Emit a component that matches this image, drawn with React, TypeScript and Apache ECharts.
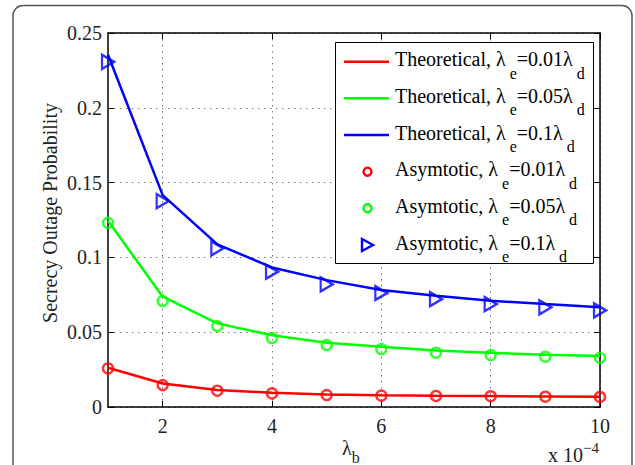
import React, { useEffect, useRef } from 'react';
import * as echarts from 'echarts';

const xValues = [1, 2, 3, 4, 5, 6, 7, 8, 9, 10];
const xTicks = [2, 4, 6, 8, 10];

const theoRed = [0.0262, 0.0157, 0.0113, 0.0096, 0.0083, 0.0078, 0.0075, 0.0073, 0.0071, 0.0069];
const theoGreen = [0.1245, 0.0737, 0.0559, 0.0479, 0.043, 0.0403, 0.0378, 0.0362, 0.035, 0.0341];
const theoBlue = [0.2355, 0.1416, 0.1087, 0.0933, 0.0848, 0.0782, 0.0744, 0.071, 0.0688, 0.0667];

const asymRed = [0.0258, 0.0147, 0.0109, 0.0091, 0.008, 0.0076, 0.0074, 0.0072, 0.0069, 0.0067];
const asymGreen = [0.1231, 0.0708, 0.0541, 0.0461, 0.0414, 0.0387, 0.0363, 0.0347, 0.0336, 0.0329];
const asymBlue = [0.2307, 0.1376, 0.106, 0.0904, 0.082, 0.0762, 0.0721, 0.0688, 0.0666, 0.0646];

const ratios = ['0.01', '0.05', '0.1'];
const colors = ['#ff0000', '#00ff00', '#0000ff'];
const yTitle = 'Secrecy Outage Probability';

const FONT = '"Liberation Serif", "Times New Roman", serif';

const pairs = (ys: number[]) => xValues.map((x, i) => [x, ys[i]]);

export default function App() {
  const ref = useRef<HTMLDivElement>(null);
  useEffect(() => {
    const chart = echarts.init(ref.current!, null, { renderer: 'svg' });
    const theo = [theoRed, theoGreen, theoBlue];
    const asym = [asymRed, asymGreen, asymBlue];

    const series: any[] = [];
    theo.forEach((d, i) => {
      series.push({
        type: 'line',
        name: `Theoretical ${ratios[i]}`,
        data: pairs(d),
        showSymbol: false,
        symbol: 'none',
        lineStyle: { color: colors[i], width: 2.5 },
        z: 2,
      });
    });
    asym.forEach((d, i) => {
      const tri = i === 2;
      series.push({
        type: 'scatter',
        name: `Asymtotic ${ratios[i]}`,
        data: pairs(d),
        symbol: tri ? 'triangle' : 'circle',
        symbolSize: tri ? [14, 12] : 10,
        symbolRotate: tri ? -90 : 0,
        clip: false,
        itemStyle: { color: 'rgba(0,0,0,0)', borderColor: colors[i], borderWidth: 2.4 },
        z: 3,
      });
    });

    const rowYs = [61.7, 98.3, 135, 171.7, 208.3, 245];
    const legendEls: any[] = [
      {
        type: 'rect',
        shape: { x: 335.5, y: 42.5, width: 258, height: 221 },
        style: { fill: '#fff', stroke: '#000', lineWidth: 1 },
        z: 100,
      },
    ];
    rowYs.forEach((ry, r) => {
      const ci = r % 3;
      const kind = r < 3 ? 'Theoretical' : 'Asymtotic';
      if (r < 3) {
        legendEls.push({
          type: 'line',
          shape: { x1: 344, y1: ry, x2: 389, y2: ry },
          style: { stroke: colors[ci], lineWidth: 2.5 },
          z: 101,
        });
      } else if (ci < 2) {
        legendEls.push({
          type: 'circle',
          shape: { cx: 367.5, cy: ry, r: 4 },
          style: { fill: 'none', stroke: colors[ci], lineWidth: 2.4 },
          z: 101,
        });
      } else {
        legendEls.push({
          type: 'polygon',
          shape: { points: [[362, ry - 6], [373, ry], [362, ry + 6]] },
          style: { fill: 'none', stroke: colors[ci], lineWidth: 2.4 },
          z: 101,
        });
      }
      legendEls.push({
        type: 'text',
        x: 395,
        y: ry - 2.4 - 22,
        z: 101,
        style: {
          text: `{a|${kind}, λ}{s| e}{a|=${ratios[ci]}λ}{s| d}`,
          verticalAlign: 'top',
          align: 'left',
          rich: {
            a: { fontFamily: FONT, fontSize: 20, lineHeight: 44, verticalAlign: 'middle', fill: '#000' },
            s: { fontFamily: FONT, fontSize: 16, verticalAlign: 'bottom', fill: '#000' },
          },
        },
      });
    });

    const option: any = {
      animation: false,
      backgroundColor: '#fff',
      grid: { left: 108, right: 35, top: 33, bottom: 58, containLabel: false, outerBoundsMode: 'none' },
      xAxis: [
        {
          type: 'value',
          min: 1,
          max: 10,
          axisLine: { show: true, onZero: false, lineStyle: { color: '#000', width: 1.5 } },
          axisTick: { show: true, inside: true, length: 6, customValues: xTicks, lineStyle: { color: '#000', width: 1 } },
          axisLabel: { customValues: xTicks, margin: 9, fontFamily: FONT, fontSize: 20, color: '#222' },
          splitLine: { show: true, lineStyle: { color: '#777', width: 1, type: [1.5, 4.5] } },
        },
        {
          type: 'value',
          position: 'top',
          min: 1,
          max: 10,
          axisLine: { show: true, onZero: false, lineStyle: { color: '#000', width: 1.5 } },
          axisTick: { show: true, inside: true, length: 6, customValues: xTicks, lineStyle: { color: '#000', width: 1 } },
          axisLabel: { show: false },
          splitLine: { show: false },
        },
      ],
      yAxis: [
        {
          type: 'value',
          min: 0,
          max: 0.25,
          interval: 0.05,
          axisLine: { show: true, onZero: false, lineStyle: { color: '#000', width: 1.5 } },
          axisTick: { show: true, inside: true, length: 6, lineStyle: { color: '#000', width: 1 } },
          axisLabel: { margin: 6, fontFamily: FONT, fontSize: 20, color: '#222' },
          splitLine: { show: true, lineStyle: { color: '#777', width: 1, type: [1.5, 4.5] } },
        },
        {
          type: 'value',
          position: 'right',
          min: 0,
          max: 0.25,
          interval: 0.05,
          axisLine: { show: true, onZero: false, lineStyle: { color: '#000', width: 1.5 } },
          axisTick: { show: true, inside: true, length: 6, lineStyle: { color: '#000', width: 1 } },
          axisLabel: { show: false },
          splitLine: { show: false },
        },
      ],
      series,
      graphic: [
        {
          type: 'rect',
          shape: { x: 13, y: 5.5, width: 619, height: 490, r: 10 },
          style: { fill: 'none', stroke: '#555', lineWidth: 1.5 },
          z: 0,
          silent: true,
        },
        {
          type: 'text',
          x: 50,
          y: 213,
          rotation: Math.PI / 2,
          style: { text: yTitle, fontFamily: FONT, fontSize: 20, fill: '#222', align: 'center', verticalAlign: 'middle' },
        },
        {
          type: 'text',
          x: 342,
          y: 431,
          style: {
            text: '{a|λ}{s|b}',
            verticalAlign: 'top',
            align: 'left',
            rich: {
              a: { fontFamily: FONT, fontSize: 20, lineHeight: 34, verticalAlign: 'middle', fill: '#222' },
              s: { fontFamily: FONT, fontSize: 16, verticalAlign: 'bottom', fill: '#222' },
            },
          },
        },
        {
          type: 'text',
          x: 548,
          y: 440,
          style: {
            text: '{a|x 10}{s|−4}',
            verticalAlign: 'top',
            align: 'left',
            rich: {
              a: { fontFamily: FONT, fontSize: 20, lineHeight: 30, verticalAlign: 'middle', fill: '#222' },
              s: { fontFamily: FONT, fontSize: 15, verticalAlign: 'top', fill: '#222' },
            },
          },
        },
        ...legendEls,
      ],
    };
    chart.setOption(option);
    return () => chart.dispose();
  }, []);
  return (
    <div
      ref={ref}
      style={{ position: 'fixed', left: 0, top: 0, width: 635, height: 465, background: '#fff' }}
    />
  );
}
